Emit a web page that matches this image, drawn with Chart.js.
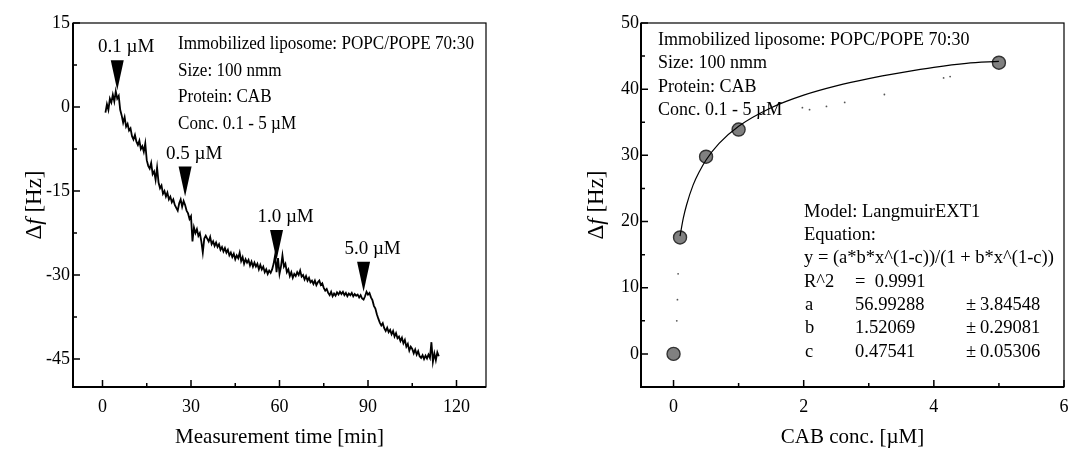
<!DOCTYPE html>
<html>
<head>
<meta charset="utf-8">
<script src="https://cdn.jsdelivr.net/npm/chart.js@4.4.0/dist/chart.umd.min.js"></script>
<style>
  html, body { margin: 0; padding: 0; background: #fff; overflow: hidden; width: 1069px; height: 450px; }
  #left { position: absolute; left: 0; top: 0; }
  #right { position: absolute; left: 534px; top: 0; }
</style>
</head>
<body>
<canvas id="left" width="534" height="450"></canvas>
<canvas id="right" width="560" height="450"></canvas>
<script>
// ---- left panel: frequency shift trace, sampled every 0.5 min from t = 1 min
const sampleStart = 1;
const sampleStep = 0.5;
const shiftHz = [
  -1.0, 0.5, -0.5, 1.5, 0.8, 2.2, 1.0, 2.8, 1.5, 2.0,
  -0.5, -1.5, -2.8, -1.8, -3.5, -3.0, -4.2, -3.8, -5.2, -5.8,
  -5.0, -6.2, -6.8, -6.0, -7.5, -7.0, -8.0, -6.5, -9.5, -10.5,
  -11.0, -10.0, -12.0, -11.5, -13.0, -10.8, -13.5, -14.5, -14.0, -15.5,
  -15.0, -16.0, -15.3, -16.5, -16.0, -17.0, -16.5, -17.5, -18.0, -18.5,
  -17.2, -16.5, -17.8, -16.8, -17.5, -18.5, -19.0, -20.0, -19.5, -24.0,
  -21.5, -22.5, -21.8, -23.0, -22.5, -24.0, -26.0, -23.5, -23.0, -23.5,
  -24.0, -23.2, -24.5, -24.0, -24.8, -24.2, -25.0, -24.5, -25.5, -25.0,
  -25.8, -25.2, -26.0, -25.5, -26.5, -26.0, -26.8, -26.2, -27.2, -26.5,
  -27.0, -26.0, -27.5, -26.8, -28.0, -27.2, -27.8, -27.3, -28.3, -27.6,
  -28.5, -27.8, -28.5, -28.0, -29.0, -28.2, -29.0, -28.5, -29.5, -29.0,
  -29.8, -29.2, -29.6, -29.0, -28.0, -26.5, -29.5, -27.0, -29.8, -28.5,
  -26.5, -28.5, -28.0, -29.5, -29.0, -30.2, -29.5, -30.5, -29.8, -30.2,
  -29.5, -30.0, -29.2, -30.3, -30.0, -30.8, -30.2, -31.0, -30.5, -31.3,
  -31.0, -31.6, -31.0, -31.8, -31.3, -31.0, -31.8, -31.5, -32.3, -32.8,
  -32.5, -33.2, -33.6, -33.0, -33.8, -33.3, -33.7, -33.1, -33.5, -33.0,
  -33.4, -33.0, -33.6, -33.2, -33.8, -33.3, -33.6, -33.2, -33.8, -33.4,
  -33.7, -33.5, -34.0, -33.6, -34.2, -34.4, -33.8, -33.0, -33.5, -33.2,
  -34.0, -34.5, -35.5, -36.0, -37.0, -37.8, -38.5, -39.0, -38.6, -39.5,
  -40.0, -39.4, -40.2, -39.8, -40.6, -40.0, -41.0, -40.4, -41.3, -41.0,
  -41.8, -41.2, -42.2, -41.6, -42.8, -42.3, -43.5, -42.8, -43.2, -44.0,
  -43.3, -44.2, -43.6, -44.5, -44.8, -44.3, -45.0, -44.4, -44.9, -44.2,
  -44.8, -42.0, -45.5, -44.0, -45.2, -43.8, -44.5
];
const injectTimes = [5, 28, 59, 88.5];
const injectTips = [3, -16, -27.3, -33];
const injectLabels = ['0.1 µM', '0.5 µM', '1.0 µM', '5.0 µM'];
const timeTicks = [0, 30, 60, 90, 120];
const timeMinor = [15, 45, 75, 105];
const shiftTicks = [15, 0, -15, -30, -45];
const shiftMinor = [7.5, -7.5, -22.5, -37.5];

// ---- right panel: binding isotherm
const concX = [0, 0.1, 0.5, 1.0, 5.0];
const concY = [0, 17.6, 29.8, 33.9, 44.0];
const fitX = [0.1, 0.15, 0.2, 0.3, 0.4, 0.5, 0.7, 1.0, 1.5, 2.0, 2.5, 3.0, 3.5, 4.0, 4.5, 5.0];
const fitY = [17.8, 20.5, 22.5, 25.5, 27.6, 29.3, 31.8, 34.4, 37.2, 39.1, 40.5, 41.6, 42.5, 43.3, 43.9, 44.2];
const gapX = [0.05, 0.06, 0.07];
const gapY = [5.0, 8.2, 12.1];
const bandX = [1.98, 2.09, 2.35, 2.63, 3.24, 4.15, 4.25];
const bandY = [37.2, 36.9, 37.4, 38.0, 39.2, 41.7, 41.9];
const concTicks = [0, 2, 4, 6];
const concMinor = [1, 3, 5];
const bindTicks = [0, 10, 20, 30, 40, 50];
const bindMinor = [5, 15, 25, 35, 45];

const infoLines = ['Immobilized liposome: POPC/POPE 70:30', 'Size: 100 nmm', 'Protein: CAB', 'Conc. 0.1 - 5 µM'];
const fitRows = [['a', '56.99288', '3.84548'], ['b', '1.52069', '0.29081'], ['c', '0.47541', '0.05306']];

const FONT = '"Liberation Serif", "Times New Roman", serif';

function pairs(xs, ys) {
  return xs.map((x, i) => ({ x: x, y: ys[i] }));
}

function drawYTitle(ctx, cx, cy) {
  const parts = [['Δ', ''], ['f', 'italic '], [' [Hz]', '']];
  ctx.save();
  ctx.translate(cx, cy);
  ctx.rotate(-Math.PI / 2);
  ctx.fillStyle = '#000';
  ctx.textBaseline = 'middle';
  ctx.textAlign = 'left';
  let total = 0;
  parts.forEach(p => { ctx.font = p[1] + '23px ' + FONT; total += ctx.measureText(p[0]).width; });
  let x = -total / 2;
  parts.forEach(p => {
    ctx.font = p[1] + '23px ' + FONT;
    ctx.fillText(p[0], x, 0);
    x += ctx.measureText(p[0]).width;
  });
  ctx.restore();
}

// box round the plot area, inward tick marks
const framePlugin = {
  id: 'frame',
  afterDatasetsDraw(chart, args, opts) {
    const { ctx, chartArea: a, scales: { x, y } } = chart;
    ctx.save();
    ctx.strokeStyle = '#000';
    ctx.lineWidth = 1.2;
    ctx.strokeRect(a.left, a.top, a.right - a.left, a.bottom - a.top);
    ctx.lineWidth = 2;
    ctx.beginPath();
    ctx.moveTo(a.left, a.top);
    ctx.lineTo(a.left, a.bottom);
    ctx.lineTo(a.right, a.bottom);
    ctx.stroke();
    ctx.lineWidth = 1.5;
    ctx.beginPath();
    const xMark = (v, len) => { const p = x.getPixelForValue(v); ctx.moveTo(p, a.bottom); ctx.lineTo(p, a.bottom - len); };
    const yMark = (v, len) => { const p = y.getPixelForValue(v); ctx.moveTo(a.left, p); ctx.lineTo(a.left + len, p); };
    x.ticks.forEach(t => xMark(t.value, 7));
    y.ticks.forEach(t => yMark(t.value, 7));
    opts.xMinor.forEach(v => xMark(v, 4));
    opts.yMinor.forEach(v => yMark(v, 4));
    ctx.stroke();
    ctx.restore();
    drawYTitle(ctx, opts.titleX, (a.top + a.bottom) / 2);
  }
};

function axisFont(size) {
  return { family: FONT, size: size };
}

// ---- left chart
const leftNotes = {
  id: 'leftNotes',
  afterDatasetsDraw(chart) {
    const { ctx, scales: { x, y } } = chart;
    ctx.save();
    ctx.fillStyle = '#000';
    injectTimes.forEach((t, i) => {
      const px = x.getPixelForValue(t);
      const py = y.getPixelForValue(injectTips[i]);
      ctx.beginPath();
      ctx.moveTo(px - 6.5, py - 30);
      ctx.lineTo(px + 6.5, py - 30);
      ctx.lineTo(px, py);
      ctx.closePath();
      ctx.fill();
      ctx.font = '19px ' + FONT;
      ctx.textAlign = 'center';
      ctx.textBaseline = 'middle';
      ctx.fillText(injectLabels[i], px + 9, py - 43);
    });
    // condensed lettering, as in the original panel
    ctx.font = '19px ' + FONT;
    ctx.textAlign = 'left';
    ctx.textBaseline = 'middle';
    infoLines.forEach((line, i) => {
      ctx.save();
      ctx.translate(178, 44 + i * 26.7);
      ctx.scale(0.9, 1);
      ctx.fillText(line, 0, 0);
      ctx.restore();
    });
    ctx.restore();
  }
};

new Chart(document.getElementById('left'), {
  type: 'line',
  data: {
    datasets: [{
      data: shiftHz.map((v, i) => ({ x: sampleStart + i * sampleStep, y: v })),
      borderColor: '#000',
      borderWidth: 1.8,
      pointRadius: 0,
      tension: 0
    }]
  },
  options: {
    responsive: false,
    animation: false,
    layout: { padding: { left: 0, right: 48, top: 23, bottom: 0 } },
    plugins: {
      legend: { display: false },
      tooltip: { enabled: false },
      frame: { xMinor: timeMinor, yMinor: shiftMinor, titleX: 35 }
    },
    scales: {
      x: {
        type: 'linear', min: -10, max: 130,
        afterBuildTicks: s => { s.ticks = timeTicks.map(v => ({ value: v })); },
        afterFit: s => { s.height = 63; },
        grid: { display: false, drawTicks: false },
        border: { display: false },
        ticks: { font: axisFont(18), color: '#000', padding: 9, maxRotation: 0, autoSkip: false },
        title: { display: true, text: 'Measurement time [min]', font: axisFont(21), color: '#000', padding: { top: 0, bottom: 0 } }
      },
      y: {
        type: 'linear', min: -50, max: 15,
        afterBuildTicks: s => { s.ticks = shiftTicks.map(v => ({ value: v })); },
        afterFit: s => { s.width = 73; },
        grid: { display: false, drawTicks: false },
        border: { display: false },
        ticks: { font: axisFont(18), color: '#000', padding: 3, autoSkip: false }
      }
    }
  },
  plugins: [framePlugin, leftNotes]
});

// ---- right chart
const rightNotes = {
  id: 'rightNotes',
  afterDatasetsDraw(chart) {
    const ctx = chart.ctx;
    const ox = -534;
    ctx.save();
    ctx.fillStyle = '#000';
    ctx.textAlign = 'left';
    ctx.textBaseline = 'middle';
    ctx.font = '18px ' + FONT;
    infoLines.forEach((line, i) => ctx.fillText(line, 658 + ox, 40 + i * 23.4));
    ctx.font = '18.5px ' + FONT;
    const rowY = i => 212 + i * 23.3;
    ctx.fillText('Model: LangmuirEXT1', 804 + ox, rowY(0));
    ctx.fillText('Equation:', 804 + ox, rowY(1));
    ctx.fillText('y = (a*b*x^(1-c))/(1 + b*x^(1-c))', 804 + ox, rowY(2));
    ctx.fillText('R^2', 804 + ox, rowY(3));
    ctx.fillText('=  0.9991', 855 + ox, rowY(3));
    fitRows.forEach((r, i) => {
      ctx.fillText(r[0], 805 + ox, rowY(4 + i));
      ctx.fillText(r[1], 855 + ox, rowY(4 + i));
      ctx.fillText('±', 966 + ox, rowY(4 + i));
      ctx.fillText(r[2], 980 + ox, rowY(4 + i));
    });
    ctx.restore();
  }
};

new Chart(document.getElementById('right'), {
  type: 'scatter',
  data: {
    datasets: [
      {
        data: pairs(fitX, fitY), showLine: true,
        borderColor: '#000', borderWidth: 1.2, pointRadius: 0,
        cubicInterpolationMode: 'monotone'
      },
      { data: pairs(gapX, gapY), pointRadius: 0.9, backgroundColor: '#555', borderWidth: 0 },
      { data: pairs(bandX, bandY), pointRadius: 0.9, backgroundColor: '#555', borderWidth: 0 },
      {
        data: pairs(concX, concY),
        pointRadius: 6.5, backgroundColor: '#808080', borderColor: '#333', borderWidth: 1.4
      }
    ]
  },
  options: {
    responsive: false,
    animation: false,
    layout: { padding: { left: 0, right: 30, top: 23, bottom: 0 } },
    plugins: {
      legend: { display: false },
      tooltip: { enabled: false },
      frame: { xMinor: concMinor, yMinor: bindMinor, titleX: 63 }
    },
    scales: {
      x: {
        type: 'linear', min: -0.5, max: 6,
        afterBuildTicks: s => { s.ticks = concTicks.map(v => ({ value: v })); },
        afterFit: s => { s.height = 63; },
        grid: { display: false, drawTicks: false },
        border: { display: false },
        ticks: { font: axisFont(18), color: '#000', padding: 9, maxRotation: 0, autoSkip: false },
        title: { display: true, text: 'CAB conc. [µM]', font: axisFont(21), color: '#000', padding: { top: 0, bottom: 0 } }
      },
      y: {
        type: 'linear', min: -5, max: 50,
        afterBuildTicks: s => { s.ticks = bindTicks.map(v => ({ value: v })); },
        afterFit: s => { s.width = 107; },
        grid: { display: false, drawTicks: false },
        border: { display: false },
        ticks: { font: axisFont(18), color: '#000', padding: 2, autoSkip: false }
      }
    }
  },
  plugins: [framePlugin, rightNotes]
});
</script>
</body>
</html>
